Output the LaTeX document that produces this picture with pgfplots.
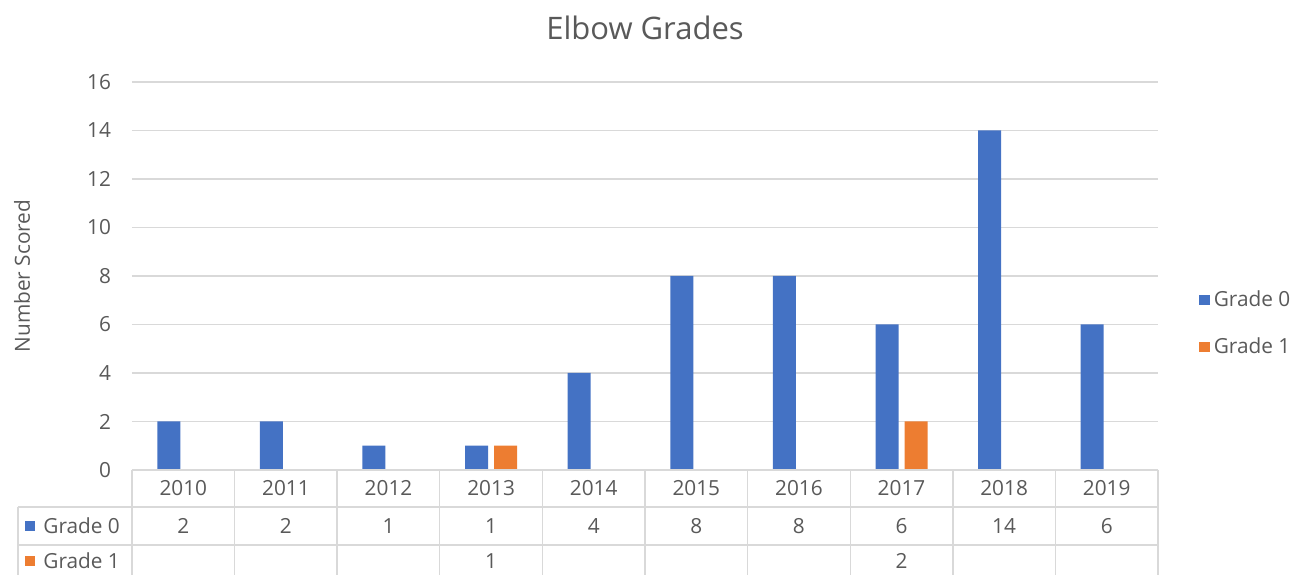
\documentclass[border=0pt]{standalone}
\usepackage{fontspec}
\setmainfont{Open Sans}
\usepackage{pgfplots}
\pgfplotsset{compat=1.18}
\definecolor{g0}{HTML}{4472C4}
\definecolor{g1}{HTML}{ED7D31}
\definecolor{txt}{HTML}{595959}
\definecolor{grd}{HTML}{D9D9D9}

\begin{document}
\begin{tikzpicture}[font=\fontsize{10.4}{12}\selectfont, text=txt]
\begin{axis}[
  name=ax,
  scale only axis,
  width=513pt, height=194pt,
  xmin=-0.5, xmax=9.5, ymin=0, ymax=16,
  ytick={0,2,...,16},
  xtick=\empty,
  ymajorgrids,
  grid style={grd, line width=0.7pt},
  axis line style={draw=none},
  major tick length=0pt,
  tick label style={text=txt, font=\fontsize{10.4}{12}\selectfont},
  yticklabel style={xshift=-7pt},
  /pgf/number format/assume math mode=true,
  ylabel={Number Scored},
  ylabel style={at={(axis description cs:-0.1072,0.5)}, anchor=center, text=txt},
  title={Elbow Grades},
  title style={at={(axis description cs:0.5,1)}, anchor=center, yshift=21pt,
    text=txt, font=\fontsize{15.5}{18}\selectfont},
  legend style={draw=none, fill=none, at={(axis description cs:1.040,0.378)},
    anchor=west, inner sep=0pt, row sep=10pt, text=txt},
  legend cell align=left,
  legend image code/.code={\fill[#1] (0pt,-2.6pt) rectangle (5.2pt,2.6pt);},
  clip=false,
]
\addplot[ybar, bar width=11.5pt, bar shift=-7.25pt, fill=g0, draw=none]
  coordinates {(0,2)(1,2)(2,1)(3,1)(4,4)(5,8)(6,8)(7,6)(8,14)(9,6)};
\addplot[ybar, bar width=11.5pt, bar shift=7.25pt, fill=g1, draw=none]
  coordinates {(3,1)(7,2)};
\legend{Grade 0, Grade 1}
\end{axis}

% data table under the plot
\begin{scope}[shift={(ax.south west)}]
  \draw[grd, line width=0.7pt] (0,0) -- (513pt,0);
  \foreach \i in {0,...,10}
    \draw[grd, line width=0.7pt] (\i*51.3pt,0) -- (\i*51.3pt,-52.5pt);
  \draw[grd, line width=0.7pt] (-57pt,-18.5pt) -- (513pt,-18.5pt);
  \draw[grd, line width=0.7pt] (-57pt,-37.5pt) -- (513pt,-37.5pt);
  \draw[grd, line width=0.7pt] (-57pt,-18.5pt) -- (-57pt,-52.5pt);
  \foreach \y [count=\i from 0] in {2010,...,2019}
    \node at ({(\i+0.5)*51.3pt},-9pt) {\y};
  \foreach \v [count=\i from 0] in {2,2,1,1,4,8,8,6,14,6}
    \node at ({(\i+0.5)*51.3pt},-28pt) {\v};
  \node at ({3.5*51.3pt},-45.5pt) {1};
  \node at ({7.5*51.3pt},-45.5pt) {2};
  \fill[g0] (-53.5pt,-30.6pt) rectangle (-48.3pt,-25.4pt);
  \node[anchor=west, inner sep=0pt] at (-44.5pt,-28pt) {Grade 0};
  \fill[g1] (-53.5pt,-48.1pt) rectangle (-48.3pt,-42.9pt);
  \node[anchor=west, inner sep=0pt] at (-44.5pt,-45.5pt) {Grade 1};
\end{scope}

\pgfresetboundingbox
\path[use as bounding box] ([shift={(-66pt,-52.5pt)}]ax.south west)
  rectangle ([shift={(70pt,41pt)}]ax.north east);
\end{tikzpicture}
\end{document}
